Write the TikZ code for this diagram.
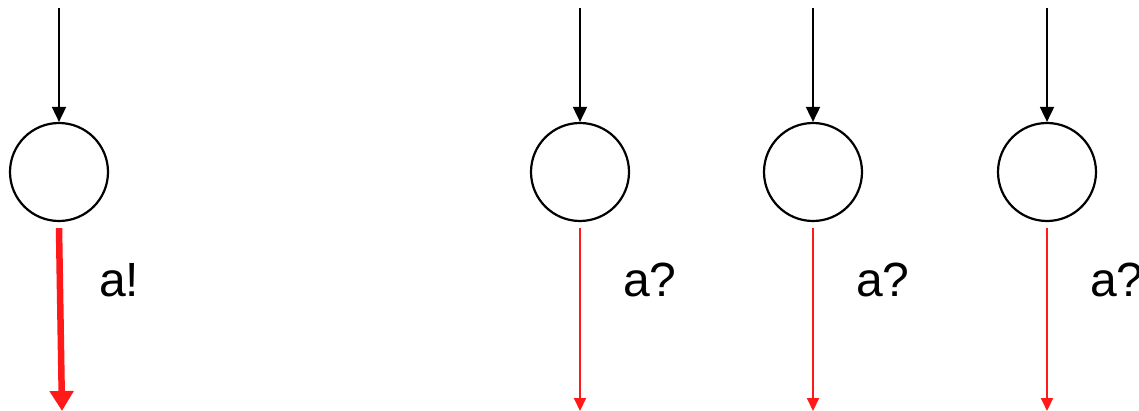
\documentclass[tikz,border=0pt]{standalone}
\usepackage{fontspec}
\setmainfont{Liberation Sans}
\usetikzlibrary{arrows.meta}
\definecolor{myred}{RGB}{255,25,25}
\begin{document}
\begin{tikzpicture}[x=1pt,y=-1pt,
  state/.style={circle,draw=black,line width=2.2pt,minimum size=98pt,inner sep=0pt},
  inarrow/.style={draw=black,line width=1.8pt,-{Triangle[length=15pt,width=14pt]}},
  outthin/.style={draw=myred,line width=2pt,-{Triangle[length=13pt,width=12pt]}},
  outthick/.style={draw=myred,line width=6.5pt,-{Triangle[length=20pt,width=23pt]}},
  lbl/.style={font=\fontsize{48pt}{48pt}\selectfont,anchor=base west,inner sep=0pt}]
\useasboundingbox (0,0) rectangle (1139,411);
% left
\node[state] (s0) at (59,172) {};
\coordinate (t0) at (59,8);
\coordinate (b0) at (62,411);
\draw[inarrow] (t0) -- (s0);
\draw[outthick] ([yshift=-6pt]s0.south) -- (b0);
\node[lbl] (l0) at (99,296) {a!};
% right three
\foreach \i/\x/\lx in {1/580/623,2/813/856,3/1047/1090}{
  \node[state] (s\i) at (\x,172) {};
  \coordinate (t\i) at (\x,8);
  \coordinate (b\i) at (\x,411);
  \draw[inarrow] (t\i) -- (s\i);
  \draw[outthin] ([yshift=-6pt]s\i.south) -- (b\i);
  \node[lbl] (l\i) at (\lx,296) {a?};
}
\end{tikzpicture}
\end{document}
